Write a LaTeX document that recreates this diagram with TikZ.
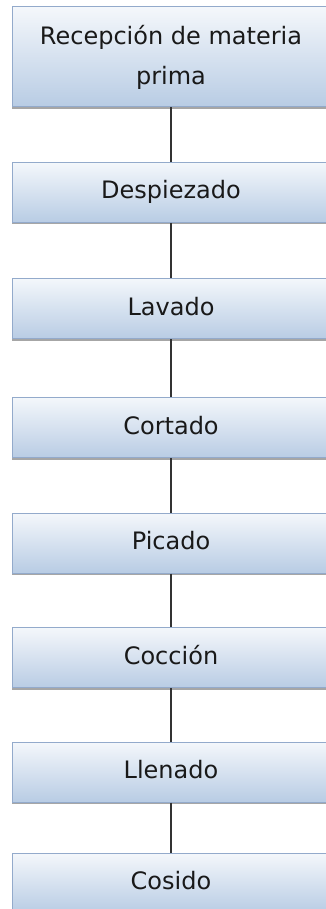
\documentclass[tikz,border=0pt]{standalone}
\usepackage{fontspec}
\setmainfont{DejaVu Sans}
\usepackage{tikz}
\tikzset{>=latex}
\usetikzlibrary{shadows}

\definecolor{boxTop}{HTML}{F4F7FB}
\definecolor{boxBottom}{HTML}{B8CCE4}
\definecolor{boxLine}{HTML}{93AACB}
\definecolor{linkLine}{HTML}{333333}

\begin{document}
\begin{tikzpicture}[x=1pt,y=1pt,
  stepbox/.style={draw=boxLine, line width=1pt, top color=boxTop, bottom color=boxBottom,
    minimum width=318pt, inner sep=0pt, align=center, text=black!90,
    font=\fontsize{24}{40}\selectfont,
    drop shadow={shadow xshift=-0.5pt, shadow yshift=-2pt, fill=black, opacity=0.35}},
  oneline/.style={minimum height=60pt, text height=18pt, text depth=5pt},
  link/.style={draw=linkLine, line width=1.2pt}]
  % limits
  \def\w{326}   % page width
  \def\h{909}   % page height
  \def\cx{171}  % centre line of the steps
  \clip (0,0) rectangle (\w,-\h);

  % steps
  \node[stepbox, minimum height=100pt] (s1) at (\cx,-57) {Recepción de materia\\prima};
  \foreach \i/\y/\txt in {2/192.5/Despiezado, 3/308.5/Lavado, 4/427.5/Cortado,
      5/543/Picado, 6/657.5/Cocción, 7/772/Llenado, 8/883/Cosido}{
    \node[stepbox, oneline] (s\i) at (\cx,-\y) {\txt};
  }

  % links
  \foreach \i [evaluate=\i as \j using int(\i+1)] in {1,...,7}
    \draw[link] (s\i) -- (s\j);
\end{tikzpicture}
\end{document}
